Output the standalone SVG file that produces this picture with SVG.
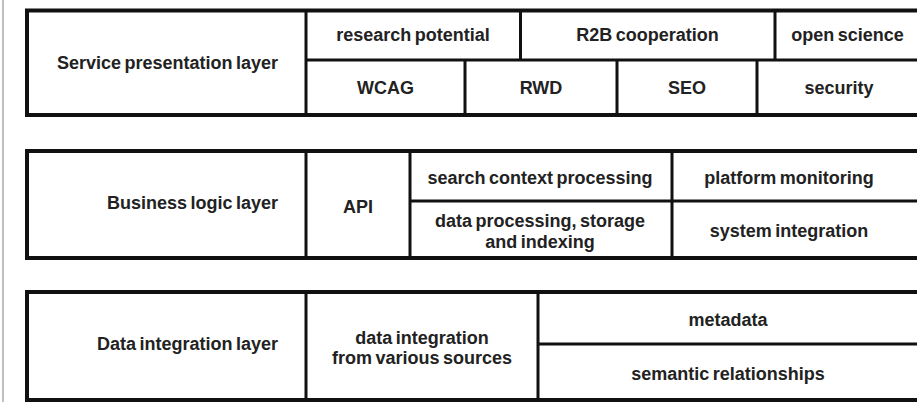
<svg xmlns="http://www.w3.org/2000/svg" width="917" height="402" viewBox="0 0 917 402">
<style>
.frame{fill:#fff;stroke:#111;stroke-width:4}
.div{stroke:#111;stroke-width:3;fill:none}
text{font-family:"Liberation Sans",Arial,sans-serif;font-weight:bold;font-size:18px;fill:#222;text-anchor:middle;word-spacing:-1.5px}
.lbl{text-anchor:end}
</style>
<rect width="917" height="402" fill="#fff"/>
<line x1="3" y1="0" x2="3" y2="402" stroke="#aaa" stroke-width="1.5"/>
<g id="service-layer">
<rect class="frame" x="27" y="10.5" width="895" height="104.5"/>
<path class="div" d="M306 10.5V115M306 60H922M520.5 10.5V60M775 10.5V60M465 60V115M617 60V115M757 60V115"/>
<text class="lbl" x="278" y="69">Service presentation layer</text>
<text x="413" y="41">research potential</text>
<text x="647.5" y="41">R2B cooperation</text>
<text x="847.5" y="41">open science</text>
<text x="385.5" y="94">WCAG</text>
<text x="541" y="94">RWD</text>
<text x="687" y="94">SEO</text>
<text x="839" y="94">security</text>
</g>
<g id="business-layer">
<rect class="frame" x="27" y="151" width="895" height="107"/>
<path class="div" d="M306 151V258M410 151V258M410 201H922M672 151V258"/>
<text class="lbl" x="278" y="209">Business logic layer</text>
<text x="358" y="212.5">API</text>
<text x="540" y="184">search context processing</text>
<text x="540" y="227">data processing, storage</text>
<text x="540" y="248">and indexing</text>
<text x="789" y="184">platform monitoring</text>
<text x="789" y="237">system integration</text>
</g>
<g id="data-layer">
<rect class="frame" x="27" y="292" width="895" height="108"/>
<path class="div" d="M306 292V400M538 292V400M538 344H922"/>
<text class="lbl" x="278" y="350">Data integration layer</text>
<text x="422" y="344">data integration</text>
<text x="422" y="364">from various sources</text>
<text x="728" y="326">metadata</text>
<text x="728" y="380">semantic relationships</text>
</g>
<g id="connectors"/>
</svg>
